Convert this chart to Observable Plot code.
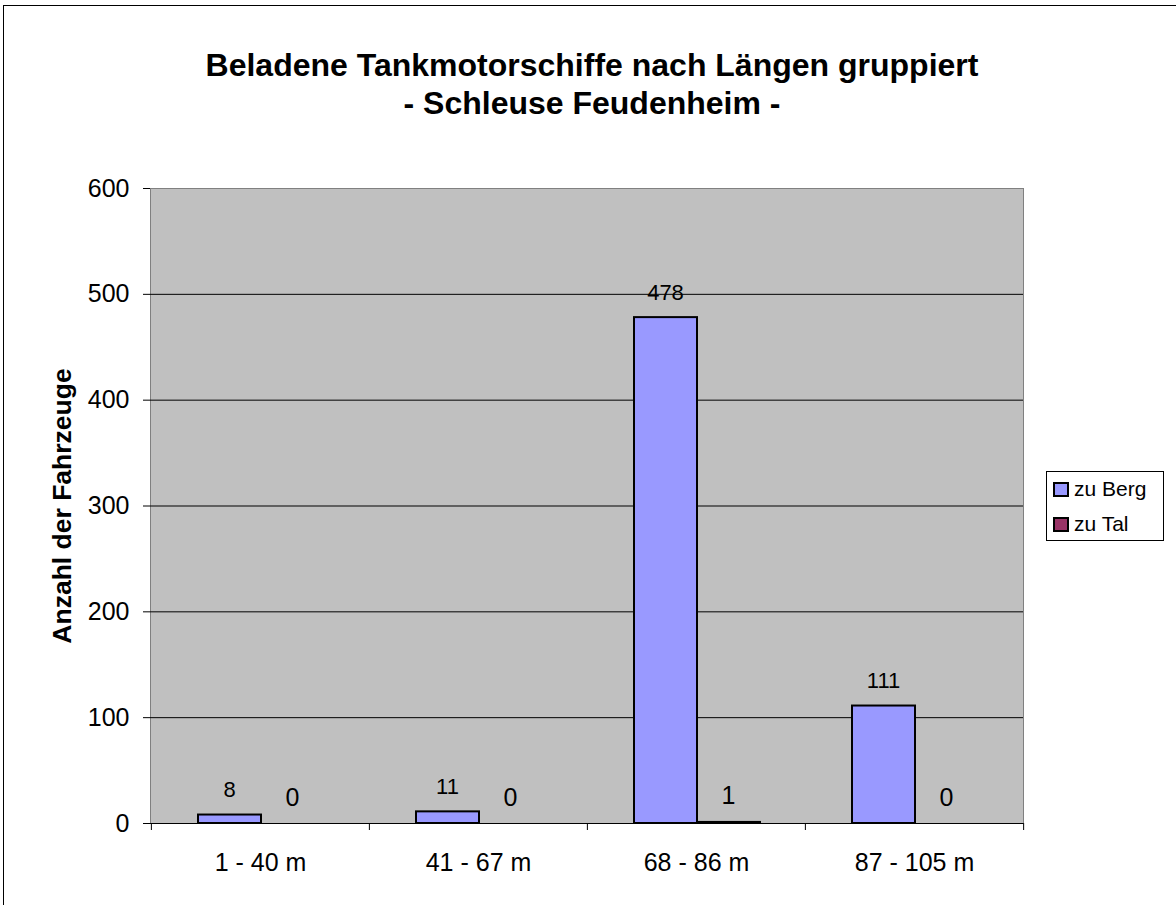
<!DOCTYPE html>
<html>
<head>
<meta charset="utf-8">
<script src="https://cdn.jsdelivr.net/npm/d3@7"></script>
<script src="https://cdn.jsdelivr.net/npm/@observablehq/plot@0.6"></script>
<style>
  html, body { margin: 0; padding: 0; background: #fff; }
  #wrap { position: relative; width: 1176px; height: 905px; overflow: hidden; font-family: "Liberation Sans", Arial, sans-serif; }
  #border { position: absolute; left: 3px; top: 5px; width: 1200px; height: 960px; border: 1px solid #000; box-sizing: border-box; }
  #title { position: absolute; left: 0; top: 46px; width: 1184px; text-align: center; font-weight: bold; font-size: 32px; line-height: 38px; color: #000; }
  #chart { position: absolute; left: 0; top: 0; }
  #legend { position: absolute; left: 1046px; top: 471px; width: 118px; height: 70px; border: 1px solid #000; box-sizing: border-box; background: #fff; font-size: 21px; }
  .sw { position: absolute; left: 6px; width: 16px; height: 15px; border: 2px solid #000; box-sizing: border-box; }
  .lt { position: absolute; left: 27px; line-height: 24px; white-space: nowrap; }
</style>
</head>
<body>
<div id="wrap">
  <div id="border"></div>
  <div id="chart"></div>
  <div id="title">Beladene Tankmotorschiffe nach Längen gruppiert<br>- Schleuse Feudenheim -</div>
  <div id="legend"></div>
</div>
<script>
const categories = ["1 - 40 m", "41 - 67 m", "68 - 86 m", "87 - 105 m"];
const series = ["zu Berg", "zu Tal"];
const zuBerg = [8, 11, 478, 111];
const zuTal = [0, 0, 1, 0];
const yTicks = [0, 100, 200, 300, 400, 500, 600];
const colors = ["#9999FF", "#993366"];
const yLabel = "Anzahl der Fahrzeuge";

const berg = categories.map((c, i) => ({cat: c, value: zuBerg[i]}));
const tal = categories.map((c, i) => ({cat: c, value: zuTal[i]}));

const W = 1176, H = 905;
const mL = 150, mR = 153, mT = 188, mB = 82;
const bw = (W - mL - mR) / categories.length;

const chart = Plot.plot({
  width: W,
  height: H,
  marginLeft: mL,
  marginRight: mR,
  marginTop: mT,
  marginBottom: mB,
  style: {fontFamily: "Liberation Sans, Arial, sans-serif", fontSize: "25px", color: "#000", background: "transparent"},
  x: {domain: categories, padding: 0, tickSize: 0, tickPadding: 30, label: null},
  y: {domain: [0, 600], ticks: yTicks, tickSize: 7, tickPadding: 14, label: null, tickFormat: d => String(d)},
  marks: [
    Plot.frame({fill: "#C0C0C0", stroke: "#808080"}),
    Plot.ruleY(yTicks.filter(d => d > 0 && d < 600), {stroke: "#000", strokeWidth: 1}),
    Plot.barY(berg, {x: "cat", y: "value", fill: colors[0], stroke: "#000", strokeWidth: 2, insetLeft: 47, insetRight: 108}),
    Plot.barY(tal, {x: "cat", y: "value", fill: colors[1], stroke: "#000", strokeWidth: 2, insetLeft: 110, insetRight: 45}),
    Plot.ruleY([0], {stroke: "#000", strokeWidth: 1}),
    Plot.ruleX(categories, {insetTop: H - mT - mB, insetBottom: -7, dx: -bw / 2, stroke: "#000"}),
    Plot.ruleX(categories.slice(-1), {insetTop: H - mT - mB, insetBottom: -7, dx: bw / 2, stroke: "#000"}),
    Plot.text(berg, {x: "cat", y: "value", text: d => String(d.value), dx: -31, dy: -25, fontSize: 22, fill: "#000"}),
    Plot.text(tal, {x: "cat", y: "value", text: d => String(d.value), dx: 32, dy: -26, fontSize: 25, fill: "#000"}),
    Plot.text([yLabel], {frameAnchor: "left", textAnchor: "middle", text: d => d, rotate: -90, dx: -88, fontSize: 26.5, fontWeight: "bold", fill: "#000"})
  ]
});
document.getElementById("chart").appendChild(chart);

const legend = document.getElementById("legend");
series.forEach((s, i) => {
  const sw = document.createElement("div");
  sw.className = "sw";
  sw.style.top = (10 + i * 35) + "px";
  sw.style.background = colors[i];
  legend.appendChild(sw);
  const t = document.createElement("div");
  t.className = "lt";
  t.style.top = (5 + i * 35) + "px";
  t.textContent = s;
  legend.appendChild(t);
});
</script>
</body>
</html>
